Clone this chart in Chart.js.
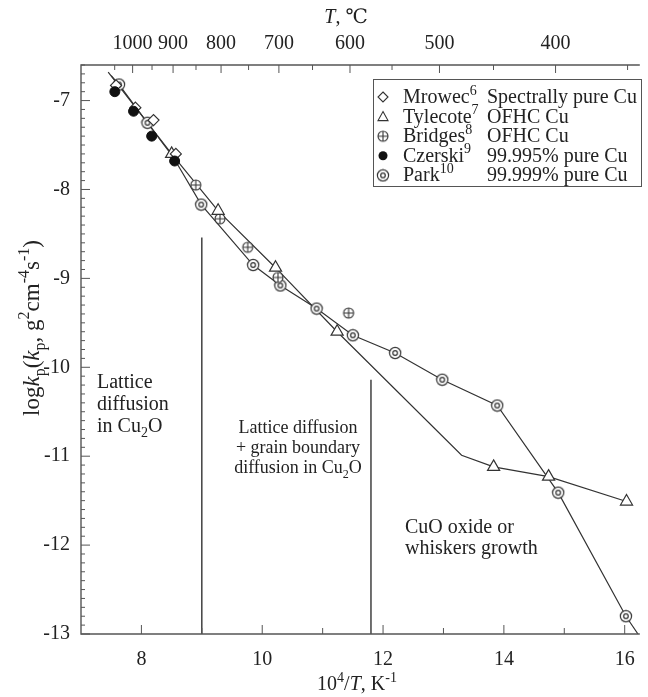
<!DOCTYPE html>
<html>
<head>
<meta charset="utf-8">
<script src="https://cdn.jsdelivr.net/npm/chart.js@4/dist/chart.umd.min.js"></script>
<style>
  html, body { margin: 0; padding: 0; background: #fff; }
  #wrap { width: 648px; height: 697px; position: relative; }
</style>
</head>
<body>
<div id="wrap"><canvas id="chart" width="648" height="697"></canvas></div>
<script>
/* log kp vs 1e4/T for Cu oxidation */
const X_MIN = 7, X_MAX = 16.25, Y_MIN = -13, Y_MAX = -6.6;
const xTicks = [8, 10, 12, 14, 16];
const xMinorTicks = [9, 11, 13, 15];
const yTicks = [-13, -12, -11, -10, -9, -8, -7];
const tempMajor = [1000, 900, 800, 700, 600, 500, 400];
const tempMinor = [1050, 950, 850, 750, 650, 550, 450, 350];

const mrowec = [[7.58, -6.83], [7.9, -7.08], [8.2, -7.22], [8.57, -7.6]];
const tylecote = [[8.5, -7.6], [9.27, -8.24], [10.22, -8.88], [11.24, -9.6], [13.83, -11.12], [14.74, -11.23], [16.03, -11.51]];
const bridges = [[8.9, -7.95], [9.3, -8.33], [9.76, -8.65], [10.26, -8.99], [11.43, -9.39]];
const czerski = [[7.56, -6.9], [7.87, -7.12], [8.17, -7.4], [8.55, -7.68]];
const park = [[7.63, -6.82], [8.1, -7.25], [8.99, -8.17], [9.85, -8.85], [10.3, -9.08], [10.9, -9.34], [11.5, -9.64], [12.2, -9.84], [12.98, -10.14], [13.89, -10.43], [14.9, -11.41], [16.02, -12.8]];

const parkLine = [[7.5, -6.72], [7.63, -6.82], [8.1, -7.25], [8.53, -7.64], [8.99, -8.17], [9.85, -8.85], [10.3, -9.08], [10.9, -9.34], [11.5, -9.64], [12.2, -9.84], [12.98, -10.14], [13.89, -10.43], [14.9, -11.41], [16.02, -12.8], [16.22, -13.0]];
const tylecoteLine = [[7.45, -6.68], [8.5, -7.6], [9.27, -8.24], [10.22, -8.88], [11.24, -9.6], [13.3, -10.99], [13.83, -11.12], [14.74, -11.23], [16.03, -11.51]];
const boundary1 = [[9.0, -8.54], [9.0, -13]];
const boundary2 = [[11.8, -10.14], [11.8, -13]];

const INK = '#333';
const SERIF = "'Liberation Serif', 'DejaVu Serif', serif";

function pts(arr) { return arr.map(p => ({ x: p[0], y: p[1] })); }
function invT(t) { return 1e4 / (t + 273.15); }

function ringImg() {
  const c = document.createElement('canvas');
  c.width = c.height = 14;
  const g = c.getContext('2d');
  g.fillStyle = '#fff'; g.strokeStyle = INK; g.lineWidth = 1.2;
  g.beginPath(); g.arc(7, 7, 5.6, 0, 2 * Math.PI); g.fill(); g.stroke();
  g.beginPath(); g.arc(7, 7, 2.3, 0, 2 * Math.PI); g.stroke();
  return c;
}
function oplusImg() {
  const c = document.createElement('canvas');
  c.width = c.height = 14;
  const g = c.getContext('2d');
  g.fillStyle = '#fff'; g.strokeStyle = INK; g.lineWidth = 1.1;
  g.beginPath(); g.arc(7, 7, 5, 0, 2 * Math.PI); g.fill(); g.stroke();
  g.beginPath(); g.moveTo(2, 7); g.lineTo(12, 7); g.moveTo(7, 2); g.lineTo(7, 12); g.stroke();
  return c;
}
const RING = ringImg();
const OPLUS = oplusImg();

function drawRich(ctx, parts, x, y, align, size) {
  const fontOf = p => {
    const s = (p.sup || p.sub) ? Math.round(size * 0.68) : size;
    return (p.i ? 'italic ' : '') + s + 'px ' + SERIF;
  };
  let total = 0;
  parts.forEach(p => { ctx.font = fontOf(p); total += ctx.measureText(p.t).width; });
  let cx = align === 'center' ? x - total / 2 : x;
  ctx.textAlign = 'left';
  ctx.textBaseline = 'alphabetic';
  parts.forEach(p => {
    ctx.font = fontOf(p);
    const dy = p.sup ? -size * 0.42 : p.sub ? size * 0.25 : 0;
    ctx.fillText(p.t, cx, y + dy);
    cx += ctx.measureText(p.t).width;
  });
}

const decorPlugin = {
  id: 'decor',
  afterDatasetsDraw(chart) {
    const { ctx, chartArea: a, scales } = chart;
    const xs = scales.x, ys = scales.y;
    ctx.save();
    ctx.strokeStyle = '#555';
    ctx.lineWidth = 1.4;
    // frame
    ctx.beginPath();
    ctx.moveTo(a.right, a.top); ctx.lineTo(a.left, a.top); ctx.lineTo(a.left, a.bottom); ctx.lineTo(a.right, a.bottom);
    ctx.stroke();
    ctx.lineWidth = 1;
    ctx.beginPath();
    // bottom ticks (inward)
    xTicks.forEach(v => { const px = xs.getPixelForValue(v); ctx.moveTo(px, a.bottom); ctx.lineTo(px, a.bottom - 9); });
    xMinorTicks.forEach(v => { const px = xs.getPixelForValue(v); ctx.moveTo(px, a.bottom); ctx.lineTo(px, a.bottom - 6); });
    // left ticks
    for (let k = 0; k <= 64; k++) {
      const v = Y_MIN + k * 0.1;
      if (v > Y_MAX + 1e-6) break;
      const py = ys.getPixelForValue(v);
      const major = k % 10 === 0;
      ctx.moveTo(a.left, py); ctx.lineTo(a.left + (major ? 9 : 4), py);
    }
    // top ticks
    tempMajor.forEach(t => { const px = xs.getPixelForValue(invT(t)); ctx.moveTo(px, a.top); ctx.lineTo(px, a.top + 8); });
    tempMinor.forEach(t => {
      const v = invT(t);
      if (v < X_MIN || v > X_MAX) return;
      const px = xs.getPixelForValue(v); ctx.moveTo(px, a.top); ctx.lineTo(px, a.top + 5);
    });
    ctx.stroke();

    // region labels
    ctx.fillStyle = '#222';
    const fs = 20;
    [[{ t: 'Lattice' }], [{ t: 'diffusion' }], [{ t: 'in Cu' }, { t: '2', sub: 1 }, { t: 'O' }]].forEach((line, i) => {
      drawRich(ctx, line, 97, 388 + i * 22, 'left', fs);
    });
    [[{ t: 'Lattice diffusion' }], [{ t: '+ grain boundary' }], [{ t: 'diffusion in Cu' }, { t: '2', sub: 1 }, { t: 'O' }]].forEach((line, i) => {
      drawRich(ctx, line, 298, 433 + i * 20, 'center', 18);
    });
    drawRich(ctx, [{ t: 'CuO oxide or' }], 405, 533, 'left', fs);
    drawRich(ctx, [{ t: 'whiskers growth' }], 405, 554, 'left', fs);

    // legend
    const lx = 373, ly = 79, lw = 268, lh = 107;
    ctx.fillStyle = '#fff';
    ctx.fillRect(lx, ly, lw, lh);
    ctx.strokeStyle = '#555'; ctx.lineWidth = 1;
    ctx.strokeRect(lx + 0.5, ly + 0.5, lw, lh);
    const rows = [
      ['diamond', 'Mrowec', '6', 'Spectrally pure Cu'],
      ['triangle', 'Tylecote', '7', 'OFHC Cu'],
      ['oplus', 'Bridges', '8', 'OFHC Cu'],
      ['dot', 'Czerski', '9', '99.995% pure Cu'],
      ['ring', 'Park', '10', '99.999% pure Cu']
    ];
    rows.forEach((r, i) => {
      const cy = ly + 18 + i * 19.6;
      const mx = lx + 10;
      ctx.strokeStyle = INK; ctx.lineWidth = 1.1; ctx.fillStyle = '#fff';
      if (r[0] === 'diamond') {
        ctx.beginPath(); ctx.moveTo(mx, cy - 5); ctx.lineTo(mx + 5, cy); ctx.lineTo(mx, cy + 5); ctx.lineTo(mx - 5, cy); ctx.closePath(); ctx.fill(); ctx.stroke();
      } else if (r[0] === 'triangle') {
        ctx.beginPath(); ctx.moveTo(mx, cy - 5); ctx.lineTo(mx + 5, cy + 4); ctx.lineTo(mx - 5, cy + 4); ctx.closePath(); ctx.fill(); ctx.stroke();
      } else if (r[0] === 'oplus') {
        ctx.drawImage(OPLUS, mx - 7, cy - 7);
      } else if (r[0] === 'dot') {
        ctx.fillStyle = '#111'; ctx.beginPath(); ctx.arc(mx, cy, 4.5, 0, 2 * Math.PI); ctx.fill();
      } else {
        ctx.drawImage(RING, mx - 7, cy - 7);
      }
      ctx.fillStyle = '#222';
      drawRich(ctx, [{ t: r[1] }, { t: r[2], sup: 1 }], lx + 30, cy + 6, 'left', 20);
      drawRich(ctx, [{ t: r[3] }], lx + 114, cy + 6, 'left', 20);
    });

    // axis titles
    ctx.fillStyle = '#222';
    drawRich(ctx, [{ t: '10' }, { t: '4', sup: 1 }, { t: '/' }, { t: 'T', i: 1 }, { t: ', K' }, { t: '-1', sup: 1 }], 357, 690, 'center', 20);
    drawRich(ctx, [{ t: 'T', i: 1 }, { t: ', \u2103' }], 346, 23, 'center', 20);
    ctx.save();
    ctx.translate(39, 328);
    ctx.rotate(-Math.PI / 2);
    drawRich(ctx, [{ t: 'log' }, { t: 'k', i: 1 }, { t: 'p', sub: 1 }, { t: '(' }, { t: 'k', i: 1 }, { t: 'p', sub: 1 }, { t: ', g' }, { t: '2', sup: 1 }, { t: 'cm' }, { t: '-4', sup: 1 }, { t: 's' }, { t: '-1', sup: 1 }, { t: ')' }], 0, 0, 'center', 23);
    ctx.restore();
    ctx.restore();
  }
};

const lineStyle = { showLine: true, borderColor: INK, borderWidth: 1.2, pointRadius: 0, fill: false, order: 2 };

new Chart(document.getElementById('chart'), {
  type: 'scatter',
  data: {
    datasets: [
      { label: 'Czerski', data: pts(czerski), pointStyle: 'circle', pointRadius: 5, backgroundColor: '#111', borderColor: '#111', borderWidth: 1, order: 0 },
      { label: 'Mrowec', data: pts(mrowec), pointStyle: 'rectRot', pointRadius: 5.5, backgroundColor: '#fff', borderColor: INK, borderWidth: 1.2, order: 0 },
      { label: 'Tylecote', data: pts(tylecote), pointStyle: 'triangle', pointRadius: 7, backgroundColor: '#fff', borderColor: INK, borderWidth: 1.2, order: 0 },
      { label: 'Bridges', data: pts(bridges), pointStyle: OPLUS, order: 0 },
      { label: 'Park', data: pts(park), pointStyle: RING, order: 0 },
      Object.assign({ label: 'Park fit', data: pts(parkLine) }, lineStyle),
      Object.assign({ label: 'Tylecote fit', data: pts(tylecoteLine) }, lineStyle),
      Object.assign({ label: 'b1', data: pts(boundary1) }, lineStyle, { borderWidth: 1.4 }),
      Object.assign({ label: 'b2', data: pts(boundary2) }, lineStyle, { borderWidth: 1.4 })
    ]
  },
  options: {
    responsive: false,
    animation: false,
    layout: { padding: { left: 0, right: 1, top: 0, bottom: 0 } },
    plugins: { legend: { display: false }, tooltip: { enabled: false } },
    elements: { point: { hoverRadius: 0 } },
    scales: {
      x: {
        type: 'linear', position: 'bottom', min: X_MIN, max: X_MAX,
        afterBuildTicks: s => { s.ticks = xTicks.map(v => ({ value: v })); },
        afterFit: s => { s.height = 63; },
        grid: { display: false }, border: { display: false },
        ticks: { color: '#222', padding: 6, maxRotation: 0, autoSkip: false, font: { family: SERIF, size: 20 } }
      },
      xTop: {
        type: 'linear', position: 'top', min: X_MIN, max: X_MAX,
        afterBuildTicks: s => { s.ticks = tempMajor.map(t => ({ value: invT(t) })); },
        afterFit: s => { s.height = 65; },
        grid: { display: false }, border: { display: false },
        ticks: { color: '#222', padding: 1, maxRotation: 0, autoSkip: false, font: { family: SERIF, size: 20 },
          callback: (v, i) => String(tempMajor[i]) }
      },
      y: {
        type: 'linear', min: Y_MIN, max: Y_MAX,
        afterBuildTicks: s => { s.ticks = yTicks.map(v => ({ value: v })); },
        afterFit: s => { s.width = 81; },
        grid: { display: false }, border: { display: false },
        ticks: { color: '#222', padding: 3, font: { family: SERIF, size: 20 }, callback: v => String(v) }
      }
    }
  },
  plugins: [decorPlugin]
});
</script>
</body>
</html>
